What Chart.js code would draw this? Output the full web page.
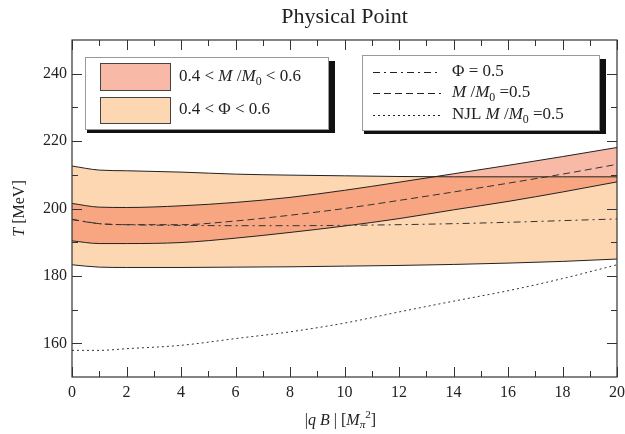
<!DOCTYPE html>
<html>
<head>
<meta charset="utf-8">
<script src="https://cdn.jsdelivr.net/npm/chart.js@4"></script>
<style>
  body { margin: 0; background: #fff; }
  #wrap { width: 625px; height: 434px; }
</style>
</head>
<body>
<div id="wrap"><canvas id="c" width="625" height="434"></canvas></div>
<script>
// |qB| in units of M_pi^2
const qB = [0, 1, 2, 4, 6, 8, 10, 12, 14, 16, 18, 20];

// 0.4 < Phi < 0.6 band
const phiLow  = [183.3, 182.6, 182.5, 182.5, 182.6, 182.7, 182.9, 183.1, 183.4, 183.8, 184.3, 185.0];
const phiHigh = [212.6, 211.4, 211.2, 210.8, 210.2, 209.9, 209.7, 209.5, 209.4, 209.4, 209.4, 209.4];

// 0.4 < M/M0 < 0.6 band
const mLow  = [190.4, 189.6, 189.6, 189.9, 191.2, 192.9, 194.8, 197.0, 199.6, 202.1, 204.9, 207.9];
const mHigh = [201.5, 200.4, 200.3, 200.8, 201.8, 203.3, 205.4, 207.8, 210.3, 212.8, 215.4, 218.1];

// single lines
const phiHalf = [196.8, 195.5, 195.2, 195.0, 194.9, 194.9, 195.0, 195.2, 195.5, 195.9, 196.4, 196.9];
const mHalf   = [196.7, 195.5, 195.2, 195.2, 196.3, 198.0, 200.0, 202.4, 204.9, 207.5, 210.2, 213.1];
const njlHalf = [157.9, 157.9, 158.4, 159.4, 161.4, 163.4, 166.0, 169.3, 172.5, 175.6, 179.2, 183.3];

const xTicks = [0, 2, 4, 6, 8, 10, 12, 14, 16, 18, 20];
const yTicks = [160, 180, 200, 220, 240];

const FONT = '"Liberation Serif", "DejaVu Serif", serif';
const INK = '#222';
const PHI_FILL = '#FDD6B2';
const M_FILL = 'rgba(242,118,80,0.5)';

const pts = ys => qB.map((x, i) => ({x: x, y: ys[i]}));

// text with italic / sub / sup pieces
function rich(ctx, parts, x, y, size, measureOnly) {
    let cx = x;
    for (const p of parts) {
        const t = p[0], st = p[1] || '';
        const small = st.includes('sub') || st.includes('sup');
        const fs = small ? size * 0.7 : size;
        ctx.font = (st.includes('it') ? 'italic ' : '') + fs + 'px ' + FONT;
        const dy = st.includes('sub') ? size * 0.28 : st.includes('sup') ? -size * 0.38 : 0;
        if (!measureOnly) ctx.fillText(t, cx, y + dy);
        cx += ctx.measureText(t).width;
    }
    return cx - x;
}

function richCenter(ctx, parts, x, y, size) {
    const w = rich(ctx, parts, 0, 0, size, true);
    rich(ctx, parts, x - w / 2, y, size);
}

const decor = {
    id: 'decor',
    afterDraw(chart) {
        const ctx = chart.ctx;
        const a = chart.chartArea;
        const xs = chart.scales.x, ys = chart.scales.y;
        ctx.save();
        ctx.fillStyle = INK;
        ctx.textBaseline = 'middle';
        ctx.textAlign = 'left';

        // title
        richCenter(ctx, [['Physical Point']], (a.left + a.right) / 2, 17, 22);

        // frame
        ctx.strokeStyle = '#333';
        ctx.lineWidth = 1.2;
        ctx.strokeRect(a.left, a.top, a.right - a.left, a.bottom - a.top);

        // inward ticks on all four sides
        ctx.lineWidth = 1;
        ctx.beginPath();
        for (let v = 0; v <= 20; v++) {
            const px = Math.round(xs.getPixelForValue(v)) + 0.5;
            const len = v % 2 === 0 ? 10 : 6;
            ctx.moveTo(px, a.bottom); ctx.lineTo(px, a.bottom - len);
            ctx.moveTo(px, a.top); ctx.lineTo(px, a.top + len);
        }
        for (let v = 160; v <= 240; v += 10) {
            const py = Math.round(ys.getPixelForValue(v)) + 0.5;
            const len = v % 20 === 0 ? 10 : 6;
            ctx.moveTo(a.left, py); ctx.lineTo(a.left + len, py);
            ctx.moveTo(a.right, py); ctx.lineTo(a.right - len, py);
        }
        ctx.stroke();

        // axis titles
        richCenter(ctx, [['|'], ['q B', 'it'], [' | ['], ['M', 'it'], ['\u03C0', 'it sub'], ['2', 'sup'], [']']],
            (a.left + a.right) / 2 - 4, 421, 16);
        ctx.save();
        ctx.translate(20, (a.top + a.bottom) / 2);
        ctx.rotate(-Math.PI / 2);
        richCenter(ctx, [['T', 'it'], [' [MeV]']], 0, 0, 16);
        ctx.restore();

        // legend boxes
        function box(x, y, w, h) {
            ctx.fillStyle = '#111';
            ctx.fillRect(x + 2, y + 4, w + 5, h);
            ctx.fillStyle = '#fff';
            ctx.fillRect(x, y, w, h);
            ctx.strokeStyle = '#999';
            ctx.lineWidth = 1;
            ctx.strokeRect(x + 0.5, y + 0.5, w, h);
        }
        box(85, 57, 243, 72);
        box(362, 55, 237, 75);

        // band legend
        ctx.strokeStyle = '#444';
        ctx.fillStyle = '#fff';
        ctx.fillRect(100, 63, 70, 27);
        ctx.fillStyle = PHI_FILL; ctx.fillRect(100, 97, 70, 26);
        ctx.fillStyle = M_FILL; ctx.fillRect(100, 63, 70, 27);
        ctx.strokeRect(100.5, 63.5, 70, 27);
        ctx.strokeRect(100.5, 97.5, 70, 26);
        ctx.fillStyle = INK;
        rich(ctx, [['0.4 < '], ['M', 'it'], [' /'], ['M', 'it'], ['0', 'sub'], [' < 0.6']], 179, 77, 17);
        rich(ctx, [['0.4 < \u03A6 < 0.6']], 179, 110, 17);

        // line legend
        const rows = [
            {y: 72, dash: [7, 4, 2, 4], parts: [['\u03A6 = 0.5']]},
            {y: 93, dash: [7, 4], parts: [['M', 'it'], [' /'], ['M', 'it'], ['0', 'sub'], [' =0.5']]},
            {y: 115, dash: [2, 3], parts: [['NJL '], ['M', 'it'], [' /'], ['M', 'it'], ['0', 'sub'], [' =0.5']]}
        ];
        ctx.strokeStyle = '#222';
        for (const r of rows) {
            ctx.setLineDash(r.dash);
            ctx.beginPath();
            ctx.moveTo(373, r.y + 0.5); ctx.lineTo(441, r.y + 0.5);
            ctx.stroke();
            ctx.setLineDash([]);
            rich(ctx, r.parts, 452, r.y, 17);
        }
        ctx.restore();
    }
};

const edge = {borderColor: '#222', borderWidth: 1, pointRadius: 0, cubicInterpolationMode: 'monotone'};

new Chart(document.getElementById('c'), {
    type: 'line',
    data: {
        datasets: [
            Object.assign({}, edge, {data: pts(njlHalf), borderColor: '#333', borderDash: [2, 3], fill: false}),
            Object.assign({}, edge, {data: pts(phiHalf), borderColor: '#333', borderDash: [7, 4, 2, 4], fill: false}),
            Object.assign({}, edge, {data: pts(mHalf), borderColor: '#333', borderDash: [7, 4], fill: false}),
            Object.assign({}, edge, {data: pts(mLow), fill: false}),
            Object.assign({}, edge, {data: pts(mHigh), fill: '-1', backgroundColor: M_FILL}),
            Object.assign({}, edge, {data: pts(phiLow), fill: false}),
            Object.assign({}, edge, {data: pts(phiHigh), fill: '-1', backgroundColor: PHI_FILL})
        ]
    },
    options: {
        responsive: false,
        animation: false,
        layout: {autoPadding: false, padding: {top: 40, right: 8, left: 0, bottom: 0}},
        plugins: {
            legend: {display: false},
            title: {display: false},
            tooltip: {enabled: false},
            filler: {drawTime: 'beforeDatasetsDraw'}
        },
        scales: {
            x: {
                type: 'linear', min: 0, max: 20,
                grid: {display: false, drawTicks: false},
                border: {display: false},
                afterBuildTicks: s => { s.ticks = xTicks.map(v => ({value: v})); },
                afterFit: s => { s.height = 57; s.paddingLeft = 0; s.paddingRight = 0; },
                ticks: {padding: 6, color: INK, font: {family: FONT, size: 16}, maxRotation: 0}
            },
            y: {
                type: 'linear', min: 150, max: 250,
                grid: {display: false, drawTicks: false},
                border: {display: false},
                afterBuildTicks: s => { s.ticks = yTicks.map(v => ({value: v})); },
                afterFit: s => { s.width = 72; s.paddingTop = 0; s.paddingBottom = 0; },
                ticks: {padding: 5, color: INK, font: {family: FONT, size: 16}}
            }
        }
    },
    plugins: [decor]
});
</script>
</body>
</html>
